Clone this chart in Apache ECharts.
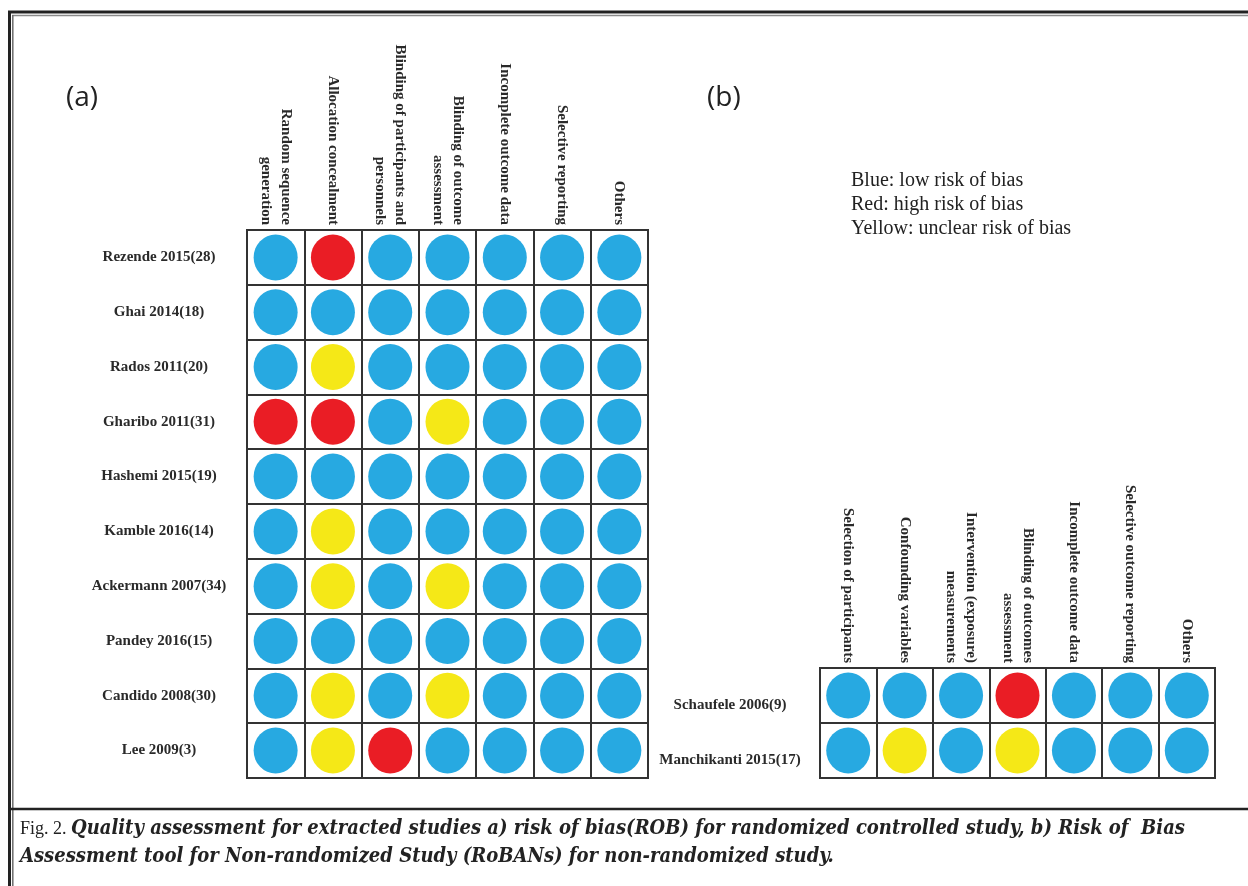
<!DOCTYPE html>
<html>
<head>
<meta charset="utf-8">
<script src="https://cdn.jsdelivr.net/npm/echarts@6/dist/echarts.min.js"></script>
<style>
  html, body { margin: 0; padding: 0; background: #ffffff; }
  #chart { width: 1248px; height: 886px; }
</style>
</head>
<body>
<div id="chart"></div>
<script>
// (a) Risk of bias for randomized controlled studies
const rctDomains = [
  'Random sequence\ngeneration',
  'Allocation concealment',
  'Blinding of participants and\npersonnels',
  'Blinding of outcome\nassessment',
  'Incomplete outcome data',
  'Selective reporting',
  'Others'
];
const rctStudies = [
  'Rezende 2015(28)', 'Ghai 2014(18)', 'Rados 2011(20)', 'Gharibo 2011(31)',
  'Hashemi 2015(19)', 'Kamble 2016(14)', 'Ackermann 2007(34)', 'Pandey 2016(15)',
  'Candido 2008(30)', 'Lee 2009(3)'
];
// L = low risk, H = high risk, U = unclear risk
const rctRisk = [
  ['L', 'H', 'L', 'L', 'L', 'L', 'L'],
  ['L', 'L', 'L', 'L', 'L', 'L', 'L'],
  ['L', 'U', 'L', 'L', 'L', 'L', 'L'],
  ['H', 'H', 'L', 'U', 'L', 'L', 'L'],
  ['L', 'L', 'L', 'L', 'L', 'L', 'L'],
  ['L', 'U', 'L', 'L', 'L', 'L', 'L'],
  ['L', 'U', 'L', 'U', 'L', 'L', 'L'],
  ['L', 'L', 'L', 'L', 'L', 'L', 'L'],
  ['L', 'U', 'L', 'U', 'L', 'L', 'L'],
  ['L', 'U', 'H', 'L', 'L', 'L', 'L']
];

// (b) RoBANS for non-randomized studies
const nrsDomains = [
  'Selection of participants',
  'Confounding variables',
  'Intervention (exposure)\nmeasurements',
  'Blinding of outcomes\nassessment',
  'Incomplete outcome data',
  'Selective outcome reporting',
  'Others'
];
const nrsStudies = ['Schaufele 2006(9)', 'Manchikanti 2015(17)'];
const nrsRisk = [
  ['L', 'L', 'L', 'H', 'L', 'L', 'L'],
  ['L', 'U', 'L', 'U', 'L', 'L', 'L']
];

const legendLines = ['Blue: low risk of bias', 'Red: high risk of bias', 'Yellow: unclear risk of bias'];
const captionLead = 'Fig. 2. ';
const captionLine1 = 'Quality assessment for extracted studies a) risk of bias(ROB) for randomized controlled study, b) Risk of  Bias';
const captionLine2 = 'Assessment tool for Non-randomized Study (RoBANs) for non-randomized study.';

const riskColor = { L: '#27a9e1', H: '#ea1d25', U: '#f5e817' };
const ink = '#2a2a2a';
const serif = '"Liberation Serif", "Times New Roman", serif';
const captionItalic = 'italic bold 20px "DejaVu Serif Condensed", "DejaVu Serif", serif';

function toPoints(matrix) {
  const pts = [];
  matrix.forEach((row, r) => row.forEach((v, c) => pts.push([c, r, v])));
  return pts;
}

function xAxisFor(gridIndex, data) {
  return {
    type: 'category', gridIndex, data, position: 'top',
    axisLine: { show: false }, axisTick: { show: false },
    splitLine: { show: true, interval: 0, lineStyle: { color: '#333', width: 2 } },
    axisLabel: {
      interval: 0, rotate: 90, margin: 5, align: 'right', verticalAlign: 'middle',
      fontFamily: serif, fontWeight: 'bold', fontSize: 15, lineHeight: 20, color: ink
    }
  };
}

function yAxisFor(gridIndex, data, margin, vAlign) {
  return {
    type: 'category', gridIndex, data, inverse: true,
    axisLine: { show: false }, axisTick: { show: false },
    splitLine: { show: true, interval: 0, lineStyle: { color: '#333', width: 2 } },
    axisLabel: {
      interval: 0, margin, align: 'center', verticalAlign: vAlign, lineHeight: 20,
      fontFamily: serif, fontWeight: 'bold', fontSize: 15, color: ink
    }
  };
}

function dotSeries(idx, matrix) {
  return {
    type: 'scatter', xAxisIndex: idx, yAxisIndex: idx,
    symbol: 'circle', symbolSize: [44, 46], z: 5,
    itemStyle: { color: p => riskColor[p.value[2]], opacity: 1 },
    data: toPoints(matrix)
  };
}

const chart = echarts.init(document.getElementById('chart'), null, { renderer: 'canvas' });

chart.setOption({
  backgroundColor: '#ffffff',
  animation: false,
  grid: [
    { left: 247, top: 230, width: 401, height: 548, show: true, borderColor: '#333', borderWidth: 2 },
    { left: 820, top: 668, width: 395, height: 110, show: true, borderColor: '#333', borderWidth: 2 }
  ],
  xAxis: [xAxisFor(0, rctDomains), xAxisFor(1, nrsDomains)],
  yAxis: [yAxisFor(0, rctStudies, 88, 'middle'), yAxisFor(1, nrsStudies, 90, 'top')],
  series: [dotSeries(0, rctRisk), dotSeries(1, nrsRisk)],
  graphic: [
    // page frame: heavy outer rule with a thin inner rule
    { type: 'line', shape: { x1: 8, y1: 12, x2: 1248, y2: 12 }, style: { stroke: '#222', lineWidth: 3 } },
    { type: 'line', shape: { x1: 9.5, y1: 11, x2: 9.5, y2: 886 }, style: { stroke: '#222', lineWidth: 3 } },
    { type: 'line', shape: { x1: 12, y1: 15.5, x2: 1248, y2: 15.5 }, style: { stroke: '#8a8a8a', lineWidth: 1.5 } },
    { type: 'line', shape: { x1: 12.8, y1: 15, x2: 12.8, y2: 886 }, style: { stroke: '#6a6a6a', lineWidth: 1.5 } },
    { type: 'line', shape: { x1: 9, y1: 809, x2: 1248, y2: 809 }, style: { stroke: '#222', lineWidth: 2.5 } },
    // panel tags
    { type: 'text', left: 66, top: 84, style: { text: '(a)', font: '28px "Open Sans", sans-serif', fill: '#222' } },
    { type: 'text', left: 707, top: 84, style: { text: '(b)', font: '28px "Open Sans", sans-serif', fill: '#222' } },
    // colour key
    { type: 'text', left: 851, top: 169, style: { text: legendLines.join('\n'), font: '20px ' + serif, lineHeight: 24, fill: '#222' } },
    // figure caption
    {
      type: 'text', left: 20, top: 819,
      style: {
        text: '{r|' + captionLead + '}{i|' + captionLine1 + '}',
        rich: {
          r: { font: '18px ' + serif, fill: '#222' },
          i: { font: captionItalic, fill: '#222' }
        }
      }
    },
    {
      type: 'text', left: 20, top: 847,
      style: {
        text: '{i|' + captionLine2 + '}',
        rich: { i: { font: captionItalic, fill: '#222' } }
      }
    }
  ]
});
</script>
</body>
</html>
